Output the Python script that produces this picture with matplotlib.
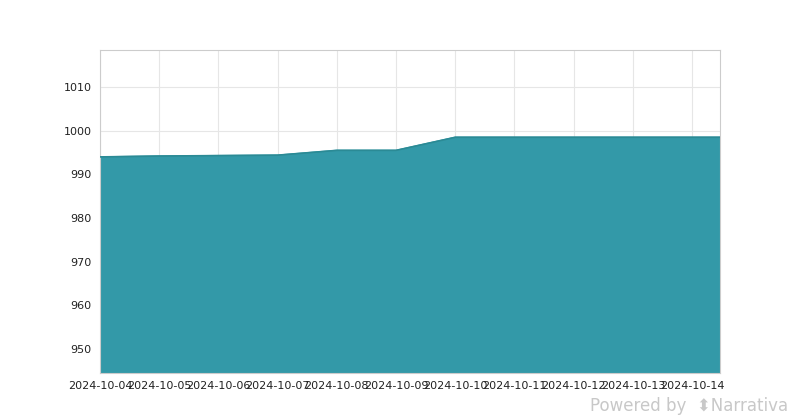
import numpy as np
import pandas as pd
import matplotlib
matplotlib.use("Agg")
import matplotlib.pyplot as plt
import matplotlib.dates as mdates

dates = pd.to_datetime(["2024-10-04", "2024-10-05", "2024-10-06", "2024-10-07",
                        "2024-10-08", "2024-10-09", "2024-10-10", "2024-10-11",
                        "2024-10-12", "2024-10-13", "2024-10-14", "2024-10-15"])
values = [994.0, 994.2, 994.3, 994.4, 995.5, 995.5, 998.5, 998.5,
          998.5, 998.5, 998.5, 998.5]
yticks = [950, 960, 970, 980, 990, 1000, 1010]

fig = plt.figure(figsize=(8, 4.2), dpi=100)
ax = fig.add_axes([0.125, 0.112, 0.775, 0.769])

ax.fill_between(dates, values, 900, color="#3399a8", alpha=1.0, zorder=2)
ax.plot(dates, values, color="#2b8a95", lw=1.2, zorder=3)

ax.set_ylim(944.5, 1018.5)
ax.set_xlim(dates[0], pd.Timestamp("2024-10-14 11:20"))
ax.set_yticks(yticks)
ax.xaxis.set_major_locator(mdates.DayLocator())
ax.xaxis.set_major_formatter(mdates.DateFormatter("%Y-%m-%d"))
ax.tick_params(labelsize=8, length=0, colors="#222222", pad=6)
ax.grid(color="#e6e6e6", lw=0.8, zorder=0)
ax.set_axisbelow(True)
for s in ax.spines.values():
    s.set_color("#cccccc")
    s.set_linewidth(0.8)

fig.text(0.985, 0.012, "Powered by  \u2b0dNarrativa", ha="right", va="bottom",
         fontsize=12, color="#c8c8c8")

fig.savefig("out.png", dpi=100)
